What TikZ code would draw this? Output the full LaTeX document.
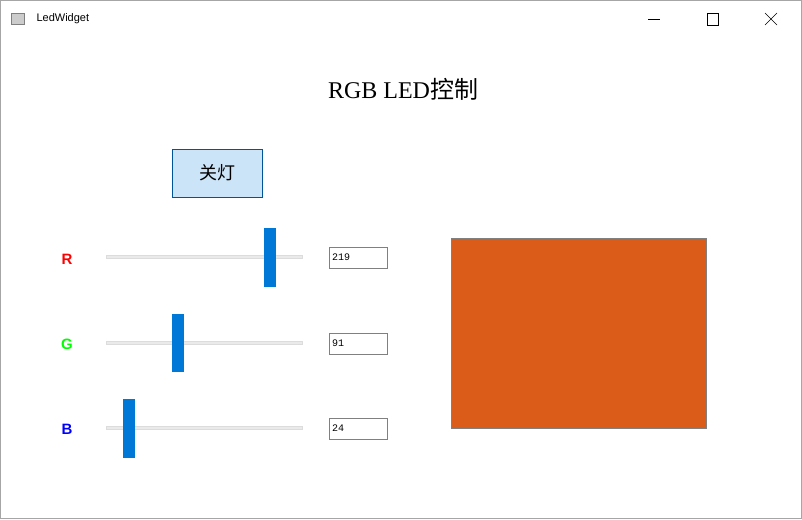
\documentclass[tikz,border=0pt]{standalone}
\usepackage{fontspec}
\setmainfont{Liberation Serif}
\newfontfamily\cjk{Noto Sans CJK SC}
\newfontfamily\uifont{Liberation Sans}
\newfontfamily\monof{Liberation Mono}
\definecolor{handle}{RGB}{0,120,215}
\definecolor{groove}{RGB}{220,220,220}
\definecolor{btnfill}{RGB}{204,228,247}
\definecolor{btnline}{RGB}{0,84,153}
\definecolor{led}{RGB}{219,91,24}
\begin{document}
\begin{tikzpicture}[x=1pt,y=-1pt,
  handlebox/.style={fill=handle,draw=none},
  groovebox/.style={fill=groove!60,draw=groove},
  valbox/.style={draw=gray,fill=white,minimum width=58pt,minimum height=21pt,inner sep=2pt,text width=52pt,align=left,font=\monof\fontsize{10}{10}\selectfont},
  lab/.style={font=\uifont\bfseries\fontsize{15}{15}\selectfont}]
\useasboundingbox (0,0) rectangle (802,519);
\draw[gray!70,fill=white] (0.5,0.5) rectangle (801.5,518.5);
% title bar
\node[fill=gray!40,draw=gray,minimum width=13pt,minimum height=11pt,inner sep=0] (icon) at (18,19) {};
\node[anchor=west,font=\uifont\fontsize{11}{11}\selectfont] (wt) at (33,19) {LedWidget};
\draw (648,19) -- (660,19);
\draw (707,13) rectangle (718,25);
\draw (765,13) -- (777,25) (765,25) -- (777,13);
% title
\node[font=\fontsize{24}{24}\selectfont] (title) at (403,89) {RGB LED{\cjk 控制}};
% button
\node[draw=btnline,fill=btnfill,minimum width=90pt,minimum height=48pt,font=\cjk\fontsize{18}{18}\selectfont] (btn) at (217,173) {关灯};
% labels
\node[lab,text=red] (r) at (67,259) {R};
\node[lab,text=green] (g) at (67,344) {G};
\node[lab,text=blue] (b) at (67,429) {B};
% grooves
\draw[groovebox] (106,255.5) rectangle (302,258.5);
\draw[groovebox] (106,341.5) rectangle (302,344.5);
\draw[groovebox] (106,426.5) rectangle (302,429.5);
% handles
\fill[handlebox] (264,228) rectangle (276,287);
\fill[handlebox] (172,314) rectangle (184,372);
\fill[handlebox] (123,399) rectangle (135,458);
% values
\node[valbox] (vr) at (358,257.5) {219};
\node[valbox] (vg) at (358,343.5) {91};
\node[valbox] (vb) at (358,428.5) {24};
% led
\draw[gray,fill=led] (451.5,238.5) rectangle (706.5,428.5);
\end{tikzpicture}
\end{document}
